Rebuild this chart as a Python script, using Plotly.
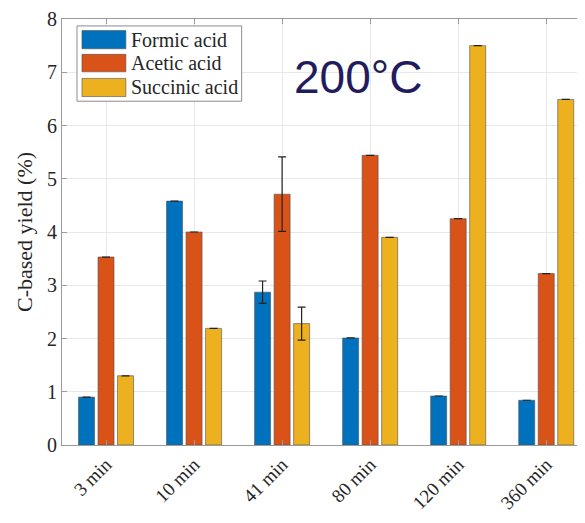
import plotly.graph_objects as go

categories = ["3 min", "10 min", "41 min", "80 min", "120 min", "360 min"]
formic = [0.90, 4.58, 2.87, 2.01, 0.92, 0.84]
acetic = [3.53, 4.00, 4.71, 5.44, 4.25, 3.22]
succinic = [1.30, 2.19, 2.28, 3.90, 7.50, 6.49]
formic_err = [None, None, 0.21, None, None, None]
acetic_err = [None, None, 0.70, None, None, None]
succinic_err = [None, None, 0.31, None, None, None]
series_names = ["Formic acid", "Acetic acid", "Succinic acid"]
colors = ["#0072BD", "#D95319", "#EDB120"]

serif = "Liberation Serif, Times New Roman, serif"
x_idx = list(range(len(categories)))

fig = go.Figure()
for name, vals, err, col in zip(series_names, [formic, acetic, succinic],
                                [formic_err, acetic_err, succinic_err], colors):
    fig.add_trace(go.Bar(
        x=x_idx, y=vals, name=name,
        marker=dict(color=col, line=dict(color="rgba(80,80,80,0.6)", width=1)),
        error_y=dict(type="data", array=err, visible=True, color="#222222",
                     thickness=1.2, width=4),
        showlegend=False,
    ))

fig.update_layout(
    width=585, height=523,
    margin=dict(l=54, r=0, t=7, b=86),
    paper_bgcolor="white", plot_bgcolor="white",
    barmode="group", bargap=0.335, bargroupgap=0.18,
    font=dict(family=serif, size=20, color="#262626"),
)
fig.update_xaxes(
    tickmode="array", tickvals=x_idx, ticktext=categories, tickangle=-45,
    range=[-0.5, 5.52], showgrid=True, gridcolor="#E8E8E8", gridwidth=1,
    showline=True, linecolor="#9A9A9A", linewidth=1, mirror="ticks",
    ticks="inside", ticklen=5, tickcolor="#9A9A9A", ticklabeloverflow="allow",
    tickfont=dict(family=serif, size=19, color="#262626"),
)
fig.update_yaxes(
    range=[0, 8], dtick=1, showgrid=True, gridcolor="#E8E8E8", gridwidth=1,
    showline=True, linecolor="#9A9A9A", linewidth=1, mirror=True,
    ticks="inside", ticklen=5, tickcolor="#9A9A9A", zeroline=False,
    ticklabeloverflow="allow",
    tickfont=dict(family=serif, size=20, color="#262626"),
    title=dict(text="C-based yield (%)", font=dict(family=serif, size=22, color="#262626"),
               standoff=8),
)

# custom legend (MATLAB style)
fig.add_shape(type="rect", xref="x domain", yref="y domain",
              x0=0.0283, x1=0.339, y0=0.807, y1=0.9837,
              line=dict(color="#8C8C8C", width=1), fillcolor="white", layer="above")
patch_y = [(0.9302, 0.9728), (0.876, 0.917), (0.818, 0.8605)]
text_y = [0.951, 0.8965, 0.8395]
for name, col, (y0, y1), ty in zip(series_names, colors, patch_y, text_y):
    fig.add_shape(type="rect", xref="x domain", yref="y domain",
                  x0=0.0377, x1=0.1205, y0=y0, y1=y1,
                  line=dict(color="rgba(80,80,80,0.6)", width=1), fillcolor=col, layer="above")
    fig.add_annotation(xref="x domain", yref="y domain", x=0.126, y=ty,
                       text=name, showarrow=False, xanchor="left", yanchor="middle",
                       font=dict(family=serif, size=20, color="#262626"))

fig.add_annotation(x=2.86, y=6.92, xref="x", yref="y", text="200°C", showarrow=False,
                   xanchor="center", yanchor="middle",
                   font=dict(family="Liberation Sans, Arial, sans-serif", size=46, color="#221C5E"))

fig.write_html("out.html")
